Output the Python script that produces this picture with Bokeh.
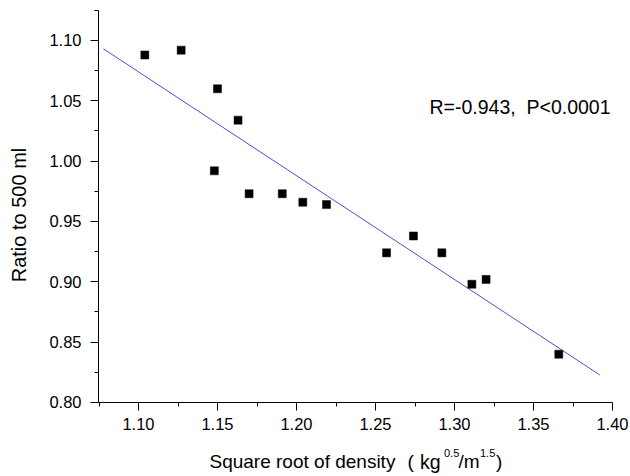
import math
from bokeh.plotting import figure
from bokeh.models import FixedTicker, PrintfTickFormatter, Label, ColumnDataSource
from bokeh.embed import file_html
from bokeh.resources import INLINE

# ---- data ----
density_sqrt = [1.104, 1.127, 1.150, 1.163, 1.148, 1.170, 1.191, 1.204,
                1.219, 1.274, 1.257, 1.292, 1.311, 1.320, 1.366]
ratio_500ml = [1.088, 1.092, 1.060, 1.034, 0.992, 0.973, 0.973, 0.966,
               0.964, 0.938, 0.924, 0.924, 0.898, 0.902, 0.840]
fit_x = [1.0778, 1.392]
fit_y = [1.0931, 0.8228]
x_ticks = [1.10, 1.15, 1.20, 1.25, 1.30, 1.35, 1.40]
x_minor = [1.075, 1.125, 1.175, 1.225, 1.275, 1.325, 1.375]
y_ticks = [0.80, 0.85, 0.90, 0.95, 1.00, 1.05, 1.10]
y_minor = [0.825, 0.875, 0.925, 0.975, 1.025, 1.075, 1.125]
x_axis_bounds = (1.0747, 1.40)
y_axis_bounds = (0.80, 1.125)
stats_text = "R=-0.943,\u00a0 P<0.0001"
y_title = "Ratio to 500 ml"

FONT = "Liberation Sans"
W, H = 630, 476

# frame fills the whole canvas; axes sit at fixed data locations
p = figure(width=W, height=H, output_backend="svg", toolbar_location=None,
           x_range=(1.012658, 1.411392), y_range=(0.738674, 1.133149),
           min_border=0, min_border_left=0, min_border_right=0,
           min_border_top=0, min_border_bottom=0)
p.outline_line_color = None
p.xgrid.visible = False
p.ygrid.visible = False
p.background_fill_color = "white"
p.border_fill_color = "white"

xa, ya = p.xaxis[0], p.yaxis[0]
xa.fixed_location = y_axis_bounds[0]
ya.fixed_location = x_axis_bounds[0]
xa.bounds = x_axis_bounds
ya.bounds = y_axis_bounds

for ax, ticks, minor in ((xa, x_ticks, x_minor), (ya, y_ticks, y_minor)):
    ax.ticker = FixedTicker(ticks=ticks, minor_ticks=minor)
    ax.formatter = PrintfTickFormatter(format="%.2f")
    ax.axis_line_color = "black"
    ax.axis_line_width = 1
    ax.major_tick_line_color = "black"
    ax.minor_tick_line_color = "black"
    ax.major_tick_in = 0
    ax.major_tick_out = 8
    ax.minor_tick_in = 0
    ax.minor_tick_out = 4
    ax.major_label_text_font = FONT
    ax.major_label_text_font_size = "16.5px"
    ax.major_label_text_color = "black"
ya.major_label_standoff = 9
xa.major_label_standoff = 8

src = ColumnDataSource(dict(x=density_sqrt, y=ratio_500ml))
p.line(fit_x, fit_y, line_color="#5050c8", line_width=1)
p.scatter("x", "y", source=src, marker="square", size=8,
          fill_color="black", line_color="black", line_width=0.5)


def add_text(txt, px, baseline, fs, angle=0.0, align="left"):
    """px, baseline: canvas pixels from top-left; anchor at text middle."""
    mid = baseline - 0.3465 * fs
    p.add_layout(Label(x=px, y=H - mid, x_units="screen", y_units="screen",
                       text=txt, angle=angle, text_font=FONT,
                       text_font_size=f"{fs}px", text_color="black",
                       text_baseline="middle", text_align=align))


# statistics
add_text(stats_text, 429, 113.3, 19.5)

# y title (rotated)
p.add_layout(Label(x=18.8, y=H - 214.5, x_units="screen", y_units="screen",
                   text=y_title, angle=math.pi / 2, text_font=FONT,
                   text_font_size="20px", text_color="black",
                   text_align="center", text_baseline="middle"))

# x title with superscripts
main_base = 468
sup_base = 456
add_text("Square root of density", 209, main_base, 19)
add_text("(", 407, main_base, 19)
add_text("kg", 419.5, main_base, 19.5)
add_text("0.5", 443.5, sup_base, 11)
add_text("/m", 458, main_base, 19)
add_text("1.5", 479.5, sup_base, 11)
add_text(")", 495.5, main_base, 19)

open("out.html", "w").write(file_html(p, INLINE))
